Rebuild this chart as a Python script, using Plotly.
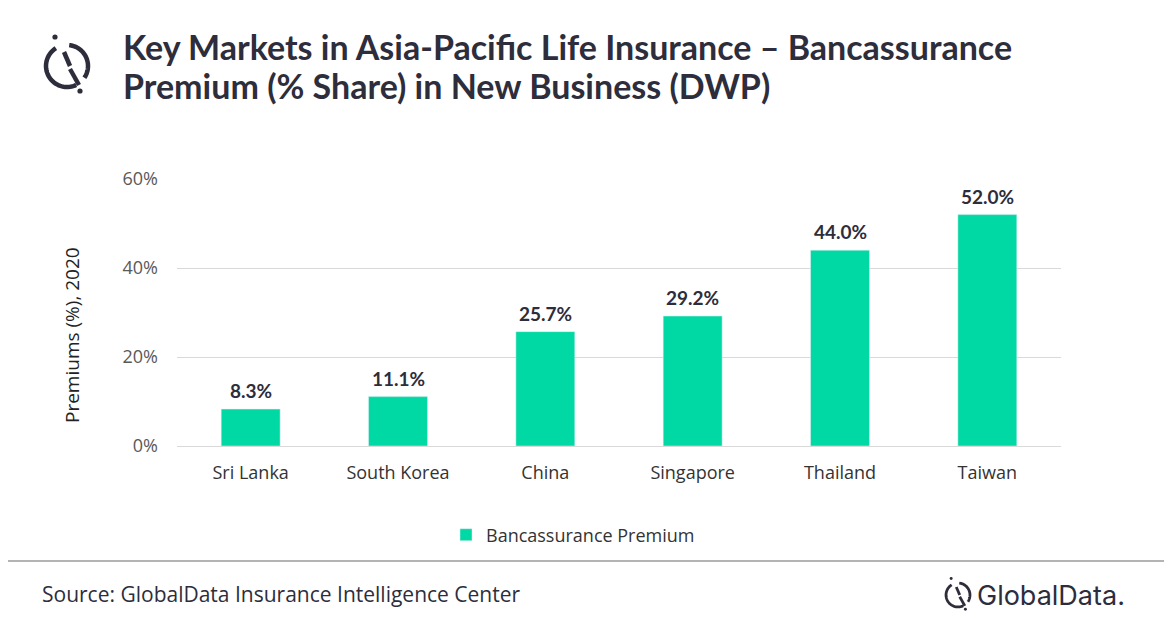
import numpy as np
import plotly.graph_objects as go

# data
markets = ["Sri Lanka", "South Korea", "China", "Singapore", "Thailand", "Taiwan"]
share = [8.3, 11.1, 25.7, 29.2, 44.0, 52.0]
y_ticks = [0, 20, 40, 60]
y_tick_labels = ["0%", "20%", "40%", "60%"]

# page has an 8px body margin, so the figure is drawn a bit smaller and
# everything below is given in window pixels
OFF = 8
W, H = 1172 - 2 * OFF, 628 - 2 * OFF
L, R, T, B = 177, 1061, 179, 446   # plot area in window pixels

DARK = "#2d2d3c"
GREEN = "#00d9a3"


def px(x):
    return (x - L) / (R - L)


def py(y):
    return (B - y) / (B - T)


def arc(cx, cy, r, a0, a1, n=40):
    a = np.radians(np.linspace(a0, a1, n))
    xs = cx + r * np.cos(a)
    ys = cy - r * np.sin(a)
    return "M " + " L ".join(f"{px(x):.5f},{py(y):.5f}" for x, y in zip(xs, ys))


def seg(x0, y0, x1, y1):
    return f"M {px(x0):.5f},{py(y0):.5f} L {px(x1):.5f},{py(y1):.5f}"


def logo(cx, cy, s, width):
    out = []
    paths = [
        arc(cx, cy, 21 * s, 122, 296),
        arc(cx, cy, 21 * s, 84, -34),
        seg(cx - 3 * s, cy - 14 * s, cx + 3 * s, cy),
        seg(cx + 3 * s, cy + 3 * s, cx + 12 * s, cy + 19 * s),
    ]
    for p in paths:
        out.append(dict(type="path", xref="paper", yref="paper", path=p,
                        line=dict(color=DARK, width=width)))
    for dx, dy in [(-12, -29), (13, 25)]:
        r = 2.6 * s
        out.append(dict(type="circle", xref="paper", yref="paper",
                        x0=px(cx + dx * s - r), x1=px(cx + dx * s + r),
                        y0=py(cy + dy * s + r), y1=py(cy + dy * s - r),
                        fillcolor=DARK, line=dict(width=0)))
    return out


fig = go.Figure()
fig.add_trace(go.Bar(
    x=markets,
    y=share,
    name="Bancassurance Premium",
    marker_color=GREEN,
))

shapes = logo(67, 66, 1.0, 4.5) + logo(958, 595, 0.57, 2.8)
shapes.append(dict(type="line", xref="paper", yref="paper",
                   x0=px(OFF), x1=px(W + OFF), y0=py(561), y1=py(561),
                   line=dict(color="#9a9a9a", width=1.5)))


def note(text, x, y, size, family="Open Sans", color=DARK, xanchor="left", **kw):
    return dict(text=text, xref="paper", yref="paper", x=px(x), y=py(y),
                xanchor=xanchor, yanchor="middle", showarrow=False,
                font=dict(family=family, size=size, color=color), **kw)


annotations = [
    note("<b>Key Markets in Asia-Pacific Life Insurance – Bancassurance</b>",
         121, 47, 34, family="Lato"),
    note("<b>Premium (% Share) in New Business (DWP)</b>",
         121, 85, 34, family="Lato"),
    note("Premiums (%), 2020", 72, 335, 19, color="#222222",
         xanchor="center", textangle=-90),
    note("Source: GlobalData Insurance Intelligence Center", 40, 594, 21),
    note("GlobalData.", 975, 595, 27, family="Inter"),
]

# value labels above the bars
for m, v in zip(markets, share):
    annotations.append(dict(text=f"<b>{v:.1f}%</b>", x=m, y=v, xref="x", yref="y",
                            yanchor="bottom", yshift=5, showarrow=False,
                            font=dict(family="Lato", size=19, color=DARK)))

fig.update_layout(
    width=W, height=H,
    margin=dict(l=L - OFF, r=W + OFF - R, t=T - OFF, b=H + OFF - B),
    paper_bgcolor="white", plot_bgcolor="white",
    bargap=0.6,
    showlegend=True,
    legend=dict(orientation="h", x=px(573), y=py(535), xanchor="center", yanchor="middle",
                itemwidth=30,
                font=dict(family="Open Sans", size=18, color="#333333")),
    xaxis=dict(tickfont=dict(family="Open Sans", size=18, color="#333333"),
               showline=False, ticks="", ticklabelstandoff=14),
    yaxis=dict(range=[0, 60], tickvals=y_ticks, ticktext=y_tick_labels,
               showgrid=True, gridcolor="#d9d9d9", gridwidth=1,
               zeroline=True, zerolinecolor="#d9d9d9", zerolinewidth=1,
               tickfont=dict(family="Open Sans", size=18, color="#595959"),
               ticklabelstandoff=18),
    shapes=shapes,
    annotations=annotations,
)

fig.write_html("out.html")
